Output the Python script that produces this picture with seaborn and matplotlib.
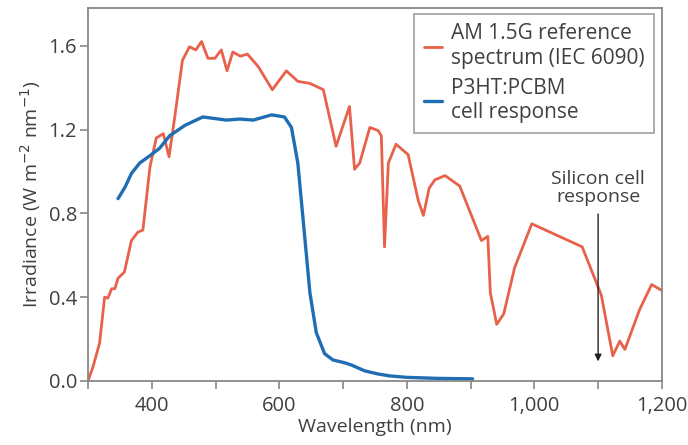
import numpy as np
import pandas as pd
import matplotlib
matplotlib.use("Agg")
import matplotlib.pyplot as plt
import seaborn as sns

# AM 1.5G reference spectrum
am_wl = [300, 308, 318, 326, 331, 337, 342, 347, 357, 368, 378, 386, 397, 407, 418, 427,
         436, 448, 459, 469, 478, 488, 499, 509, 518, 527, 539, 550, 567, 589, 611, 629,
         648, 669, 689, 710, 718, 726, 742, 755, 760, 765, 771, 783, 802, 818, 826, 835,
         844, 860, 883, 917, 927, 931, 941, 952, 969, 996, 1075, 1105, 1123, 1134, 1142,
         1165, 1184, 1201]
am_irr = [0.00, 0.07, 0.18, 0.40, 0.395, 0.44, 0.44, 0.49, 0.52, 0.67, 0.71, 0.72, 1.02,
          1.16, 1.18, 1.07, 1.26, 1.53, 1.595, 1.58, 1.62, 1.54, 1.54, 1.58, 1.48, 1.57,
          1.55, 1.56, 1.50, 1.39, 1.48, 1.43, 1.42, 1.39, 1.12, 1.31, 1.01, 1.04, 1.21,
          1.195, 1.17, 0.64, 1.04, 1.13, 1.08, 0.86, 0.79, 0.92, 0.96, 0.98, 0.93, 0.67,
          0.69, 0.42, 0.27, 0.32, 0.54, 0.75, 0.64, 0.41, 0.12, 0.19, 0.15, 0.34, 0.46, 0.43]

# P3HT:PCBM cell response
cell_wl = [347, 358, 368, 381, 397, 412, 428, 452, 480, 517, 538, 559, 588, 608, 619, 629,
           637, 648, 658, 671, 684, 702, 713, 734, 755, 773, 800, 850, 903]
cell_irr = [0.87, 0.925, 0.99, 1.04, 1.075, 1.11, 1.17, 1.22, 1.26, 1.245, 1.25, 1.245,
            1.27, 1.26, 1.21, 1.04, 0.78, 0.42, 0.23, 0.13, 0.10, 0.087, 0.076, 0.048,
            0.033, 0.024, 0.017, 0.012, 0.010]

xticks = [400, 600, 800, 1000, 1200]
xtick_labels = ["400", "600", "800", "1,000", "1,200"]
yticks = [0.0, 0.4, 0.8, 1.2, 1.6]

RED = "#e8614a"
BLUE = "#1f6eb4"
GREY = "#888888"
TEXT = "#404040"

sns.set_style("white")
plt.rcParams["font.family"] = ["Open Sans", "DejaVu Sans"]

am = pd.DataFrame({"wl": am_wl, "irr": am_irr})
cell = pd.DataFrame({"wl": cell_wl, "irr": cell_irr})

fig = plt.figure(figsize=(6.88, 4.45), dpi=100)
ax = fig.add_axes([0.128, 0.144, 0.834, 0.838])

sns.lineplot(data=am, x="wl", y="irr", ax=ax, color=RED, lw=2.0,
             label="AM 1.5G reference\nspectrum (IEC 6090)")
sns.lineplot(data=cell, x="wl", y="irr", ax=ax, color=BLUE, lw=2.4,
             label="P3HT:PCBM\ncell response")

ax.set_xlim(300, 1200)
ax.set_ylim(0, 1.78)
ax.set_xticks(xticks)
ax.set_xticklabels(xtick_labels)
ax.set_xticks(range(300, 1201, 100), minor=True)
ax.set_yticks(yticks)
ax.set_yticklabels([f"{v:.1f}" for v in yticks])

for s in ax.spines.values():
    s.set_color(GREY)
    s.set_linewidth(1.3)
ax.tick_params(which="both", direction="out", color=GREY, width=1.2,
               labelsize=14.5, labelcolor=TEXT)
ax.tick_params(axis="x", pad=5)
ax.tick_params(axis="y", pad=2)
ax.tick_params(which="major", length=6, bottom=True, left=True)
ax.tick_params(which="minor", length=6, bottom=True)

ax.set_xlabel("Wavelength (nm)", fontsize=14, color=TEXT, labelpad=1)
ax.set_ylabel("Irradiance (W m$^{-2}$ nm$^{-1}$)", fontsize=14, color=TEXT, labelpad=4)

leg = ax.legend(loc="upper right", bbox_to_anchor=(0.986, 0.984), borderaxespad=0,
                fontsize=15, handlelength=0.9, handletextpad=0.4, labelspacing=0.45,
                frameon=True, fancybox=False, borderpad=0.45)
leg.get_frame().set_edgecolor(GREY)
leg.get_frame().set_linewidth(1.2)
for t in leg.get_texts():
    t.set_color(TEXT)

ax.annotate("", xy=(1100, 0.08), xytext=(1100, 0.81),
            arrowprops=dict(arrowstyle="-|>", color="#222222", lw=1.0,
                            mutation_scale=10))
ax.text(1100, 0.92, "Silicon cell\nresponse", ha="center", va="center",
        fontsize=14, color=TEXT, linespacing=1.0)

fig.savefig("out.png", dpi=100)
